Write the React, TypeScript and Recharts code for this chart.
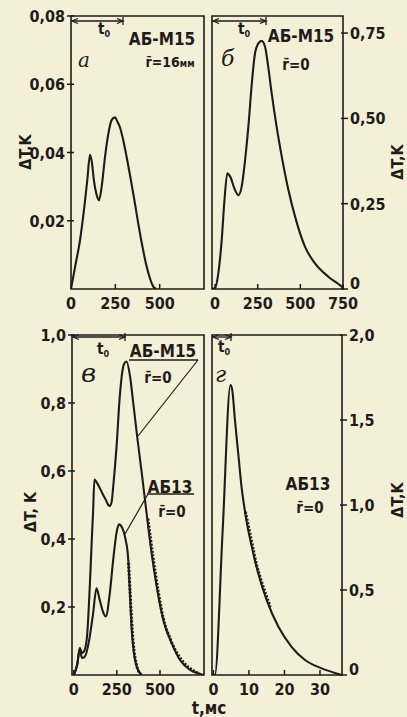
import React from 'react';
import { LineChart, Line, XAxis, YAxis, ReferenceArea } from 'recharts';

const INK = '#1e1c19';
const BG = '#f4f0d8';
const FONT = "'DejaVu Sans Condensed', 'DejaVu Sans', sans-serif";

// Panel а: АБ-М15, r = 16 мм (t, мс ; ΔT, K)
const timeA = [0, 25, 50, 75, 92, 107, 118, 130, 145, 158, 173, 192, 211, 229, 248, 262, 276, 295, 314, 351, 389, 427, 464, 480];
const dTA = [0, 0.007, 0.014, 0.024, 0.032, 0.0393, 0.037, 0.0315, 0.0275, 0.026, 0.030, 0.0388, 0.0456, 0.0495, 0.0503, 0.049, 0.0474, 0.0435, 0.0386, 0.028, 0.0163, 0.0065, 0.0007, 0];

// Panel б: АБ-М15, r = 0
const timeB = [-18, 0, 19, 39, 55, 72, 88, 117, 137, 156, 176, 195, 215, 234, 254, 273, 293, 312, 332, 361, 391, 430, 469, 527, 586, 664, 742, 750];
const dTB = [0, 0.003, 0.046, 0.144, 0.26, 0.339, 0.33, 0.29, 0.275, 0.30, 0.378, 0.475, 0.60, 0.69, 0.72, 0.727, 0.71, 0.65, 0.573, 0.475, 0.388, 0.29, 0.212, 0.124, 0.075, 0.036, 0.007, 0.003];

// Panel в: АБ-М15 (upper) and АБ13 (lower), r = 0
const timeVU = [0, 20, 35, 48, 60, 77, 93, 103, 112, 120, 135, 151, 170, 186, 200, 209, 220, 229, 248, 267, 291, 306, 326, 345, 368, 394, 422, 451, 481, 519, 568, 616, 674, 733, 755];
const dTVU = [0, 0.03, 0.08, 0.065, 0.07, 0.113, 0.26, 0.378, 0.478, 0.575, 0.565, 0.55, 0.53, 0.515, 0.50, 0.497, 0.51, 0.555, 0.67, 0.82, 0.914, 0.922, 0.88, 0.80, 0.70, 0.595, 0.477, 0.36, 0.26, 0.162, 0.094, 0.044, 0.015, 0.003, 0];
const timeVL = [0, 20, 35, 48, 64, 93, 112, 132, 151, 174, 186, 209, 229, 248, 262, 281, 300, 316, 326, 335, 349, 368, 394];
const dTVL = [0, 0.03, 0.075, 0.05, 0.054, 0.113, 0.18, 0.255, 0.22, 0.18, 0.172, 0.24, 0.34, 0.418, 0.443, 0.433, 0.40, 0.34, 0.24, 0.142, 0.064, 0.02, 0];
// experimental (dotted) tails in в
const timeVUexp = [430, 460, 490, 520, 560, 600, 640, 690, 730];
const dTVUexp = [0.46, 0.345, 0.245, 0.165, 0.105, 0.063, 0.035, 0.014, 0.004];
const timeVLexp = [318, 328, 338, 350, 362, 375, 390];
const dTVLexp = [0.33, 0.23, 0.14, 0.07, 0.033, 0.012, 0.002];

// Panel г: АБ13, r = 0
const timeG = [-0.4, 0.4, 2.6, 4.8, 5.3, 6.06, 7.0, 7.9, 9.3, 10.8, 12.6, 15.0, 18.3, 22.0, 25.8, 30.5, 35.2, 36.2];
const dTG = [0, 0, 0.85, 1.706, 1.676, 1.5, 1.30, 1.11, 0.91, 0.755, 0.60, 0.44, 0.284, 0.166, 0.088, 0.039, 0.006, 0];
const timeGexp = [9.0, 10.0, 11.0, 12.0, 13.0, 14.0, 15.0, 16.0];
const dTGexp = [0.96, 0.86, 0.76, 0.66, 0.585, 0.52, 0.46, 0.40];

// Tick values
const xTicksA = [0, 250, 500];
const yTicksA = [0.02, 0.04, 0.06, 0.08];
const xTicksB = [0, 250, 500, 750];
const yTicksB = [0, 0.25, 0.5, 0.75];
const xTicksV = [0, 250, 500];
const yTicksV = [0.2, 0.4, 0.6, 0.8, 1.0];
const xTicksG = [0, 10, 20, 30];
const yTicksG = [0, 0.5, 1.0, 1.5, 2.0];

const toRows = (ts: number[], vs: number[]) => ts.map((t, i) => ({ t, v: vs[i] }));

const fmt = (dec: number) => (v: number) => (v === 0 ? '0' : v.toFixed(dec).replace('.', ','));

type Series = { data: { t: number; v: number }[]; dotted?: boolean };
type Frame = { left: number; top: number; right: number; bottom: number };

const W = 407;
const H = 717;

const tickText: React.CSSProperties = { fontFamily: FONT, fontWeight: 700, fontSize: 16 };

function XTick(props: any) {
  const { x, y, payload } = props;
  return (
    <g>
      <line x1={x} x2={x} y1={y} y2={y - 5} stroke={INK} strokeWidth={1.5} />
      <text x={x} y={y + 20} textAnchor="middle" fill={INK} style={tickText}>
        {payload.value}
      </text>
    </g>
  );
}

function makeYTick(side: 'left' | 'right', f: (v: number) => string) {
  return (props: any) => {
    const { x, y, payload } = props;
    const base = payload.value === 0 ? y : y + 6;
    if (side === 'left') {
      return (
        <g>
          <line x1={x - 4} x2={x + 3} y1={y} y2={y} stroke={INK} strokeWidth={1.5} />
          <text x={x - 6} y={base} textAnchor="end" fill={INK} style={tickText}>
            {f(payload.value)}
          </text>
        </g>
      );
    }
    return (
      <g>
        <line x1={x - 2} x2={x + 5} y1={y} y2={y} stroke={INK} strokeWidth={1.5} />
        <text x={x + 7} y={base} textAnchor="start" fill={INK} style={tickText}>
          {f(payload.value)}
        </text>
      </g>
    );
  };
}

function Panel(p: {
  frame: Frame;
  xDomain: [number, number];
  yDomain: [number, number];
  xTicks: number[];
  yTicks: number[];
  yFmt: (v: number) => string;
  ySide: 'left' | 'right';
  series: Series[];
}) {
  const { frame } = p;
  const margin = {
    top: frame.top,
    bottom: H - frame.bottom - 1,
    left: p.ySide === 'left' ? frame.left - 1 : frame.left,
    right: p.ySide === 'right' ? W - frame.right - 1 : W - frame.right,
  };
  return (
    <div style={{ position: 'absolute', left: 0, top: 0 }}>
      <LineChart width={W} height={H} margin={margin}>
        <XAxis
          dataKey="t"
          type="number"
          domain={p.xDomain}
          ticks={p.xTicks}
          interval={0}
          height={1}
          tickSize={0}
          tickMargin={0}
          axisLine={false}
          tickLine={false}
          allowDataOverflow
          tick={(props: any) => <XTick {...props} />}
        />
        <YAxis
          type="number"
          orientation={p.ySide}
          domain={p.yDomain}
          ticks={p.yTicks}
          interval={0}
          width={1}
          tickSize={0}
          tickMargin={0}
          axisLine={false}
          tickLine={false}
          allowDataOverflow
          tick={makeYTick(p.ySide, p.yFmt)}
        />
        <ReferenceArea
          x1={p.xDomain[0]}
          x2={p.xDomain[1]}
          y1={p.yDomain[0]}
          y2={p.yDomain[1]}
          fill="none"
          fillOpacity={0}
          stroke={INK}
          strokeWidth={1.6}
          ifOverflow="visible"
        />
        {p.series.map((s, i) => (
          <Line
            key={i}
            data={s.data}
            dataKey="v"
            type="monotone"
            stroke={INK}
            strokeWidth={s.dotted ? 3 : 2.1}
            strokeDasharray={s.dotted ? '2 1.6' : undefined}
            dot={false}
            activeDot={false}
            isAnimationActive={false}
          />
        ))}
      </LineChart>
    </div>
  );
}

const txt: React.CSSProperties = { fontFamily: FONT, fontWeight: 700, fill: INK };
const letter: React.CSSProperties = { fontFamily: "'DejaVu Serif', serif", fontStyle: 'italic', fill: INK };

function Arrow({ x1, x2, y }: { x1: number; x2: number; y: number }) {
  return (
    <g stroke={INK} strokeWidth={1.3} fill="none">
      <line x1={x1} x2={x2} y1={y} y2={y} />
      <path d={`M${x1 + 6} ${y - 2.5} L${x1} ${y} L${x1 + 6} ${y + 2.5}`} />
      <path d={`M${x2 - 6} ${y - 2.5} L${x2} ${y} L${x2 - 6} ${y + 2.5}`} />
      <line x1={x2} x2={x2} y1={y - 4} y2={y + 4} />
    </g>
  );
}

function T0({ x, y }: { x: number; y: number }) {
  return (
    <text x={x} y={y} style={{ ...txt, fontSize: 15 }}>
      t<tspan dy={3} fontSize={9}>0</tspan>
    </text>
  );
}

function Overlay() {
  return (
    <svg width={W} height={H} style={{ position: 'absolute', left: 0, top: 0, pointerEvents: 'none' }}>
      {/* panel а */}
      <Arrow x1={72} x2={123} y={21} />
      <T0 x={98} y={34} />
      <text x={78} y={67} style={{ ...letter, fontSize: 20 }}>а</text>
      <text x={162} y={45} textAnchor="middle" style={{ ...txt, fontSize: 17 }}>АБ-М15</text>
      <text x={170} y={67} textAnchor="middle" style={{ ...txt, fontSize: 14 }}>
        r̄=16<tspan fontSize={10}>мм</tspan>
      </text>

      {/* panel б */}
      <Arrow x1={213} x2={266} y={21} />
      <T0 x={238} y={34} />
      <text x={221} y={66} style={{ ...letter, fontSize: 22 }}>б</text>
      <text x={301} y={42} textAnchor="middle" style={{ ...txt, fontSize: 17 }}>АБ-М15</text>
      <text x={296} y={70} textAnchor="middle" style={{ ...txt, fontSize: 15 }}>r̄=0</text>

      {/* panel в */}
      <Arrow x1={73} x2={125} y={337} />
      <T0 x={97} y={354} />
      <text x={81} y={382} style={{ ...letter, fontSize: 26 }}>в</text>
      <text x={163} y={357} textAnchor="middle" style={{ ...txt, fontSize: 17 }}>АБ-М15</text>
      <line x1={129} x2={198} y1={360} y2={360} stroke={INK} strokeWidth={1.4} />
      <line x1={198} x2={138} y1={360} y2={436} stroke={INK} strokeWidth={1.2} />
      <text x={158} y={383} textAnchor="middle" style={{ ...txt, fontSize: 15 }}>r̄=0</text>
      <text x={170} y={493} textAnchor="middle" style={{ ...txt, fontSize: 17 }}>АБ13</text>
      <line x1={147} x2={194} y1={494} y2={494} stroke={INK} strokeWidth={1.4} />
      <line x1={148} x2={125} y1={494} y2={534} stroke={INK} strokeWidth={1.2} />
      <text x={172} y={517} textAnchor="middle" style={{ ...txt, fontSize: 15 }}>r̄=0</text>

      {/* panel г */}
      <Arrow x1={213} x2={231} y={337} />
      <T0 x={218} y={352} />
      <text x={215} y={382} style={{ ...letter, fontSize: 22 }}>г</text>
      <text x={308} y={490} textAnchor="middle" style={{ ...txt, fontSize: 17 }}>АБ13</text>
      <text x={310} y={513} textAnchor="middle" style={{ ...txt, fontSize: 15 }}>r̄=0</text>

      {/* axis titles */}
      <text transform="translate(31,152) rotate(-90)" textAnchor="middle" style={{ ...txt, fontSize: 16 }}>ΔT,K</text>
      <text transform="translate(403,162) rotate(-90)" textAnchor="middle" style={{ ...txt, fontSize: 16 }}>ΔT,K</text>
      <text transform="translate(36,512) rotate(-90)" textAnchor="middle" style={{ ...txt, fontSize: 16 }}>ΔT, K</text>
      <text transform="translate(403,500) rotate(-90)" textAnchor="middle" style={{ ...txt, fontSize: 16 }}>ΔT,K</text>
      <text x={209} y={714} textAnchor="middle" style={{ ...txt, fontSize: 17 }}>t,мс</text>
    </svg>
  );
}

export default function App() {
  return (
    <div style={{ position: 'fixed', left: 0, top: 0, width: W, height: H, background: BG, overflow: 'hidden' }}>
      <Panel
        frame={{ left: 71, top: 16, right: 204, bottom: 289 }}
        xDomain={[0, 750]}
        yDomain={[0, 0.08]}
        xTicks={xTicksA}
        yTicks={yTicksA}
        yFmt={fmt(2)}
        ySide="left"
        series={[{ data: toRows(timeA, dTA) }]}
      />
      <Panel
        frame={{ left: 212, top: 16, right: 343, bottom: 289 }}
        xDomain={[-18, 750]}
        yDomain={[0, 0.8]}
        xTicks={xTicksB}
        yTicks={yTicksB}
        yFmt={fmt(2)}
        ySide="right"
        series={[{ data: toRows(timeB, dTB) }]}
      />
      <Panel
        frame={{ left: 72, top: 335, right: 204, bottom: 675 }}
        xDomain={[-10, 755]}
        yDomain={[0, 1]}
        xTicks={xTicksV}
        yTicks={yTicksV}
        yFmt={fmt(1)}
        ySide="left"
        series={[
          { data: toRows(timeVU, dTVU) },
          { data: toRows(timeVL, dTVL) },
          { data: toRows(timeVUexp, dTVUexp), dotted: true },
          { data: toRows(timeVLexp, dTVLexp), dotted: true },
        ]}
      />
      <Panel
        frame={{ left: 212, top: 335, right: 342, bottom: 675 }}
        xDomain={[-0.4, 36.2]}
        yDomain={[0, 2]}
        xTicks={xTicksG}
        yTicks={yTicksG}
        yFmt={fmt(1)}
        ySide="right"
        series={[
          { data: toRows(timeG, dTG) },
          { data: toRows(timeGexp, dTGexp), dotted: true },
        ]}
      />
      <Overlay />
    </div>
  );
}
